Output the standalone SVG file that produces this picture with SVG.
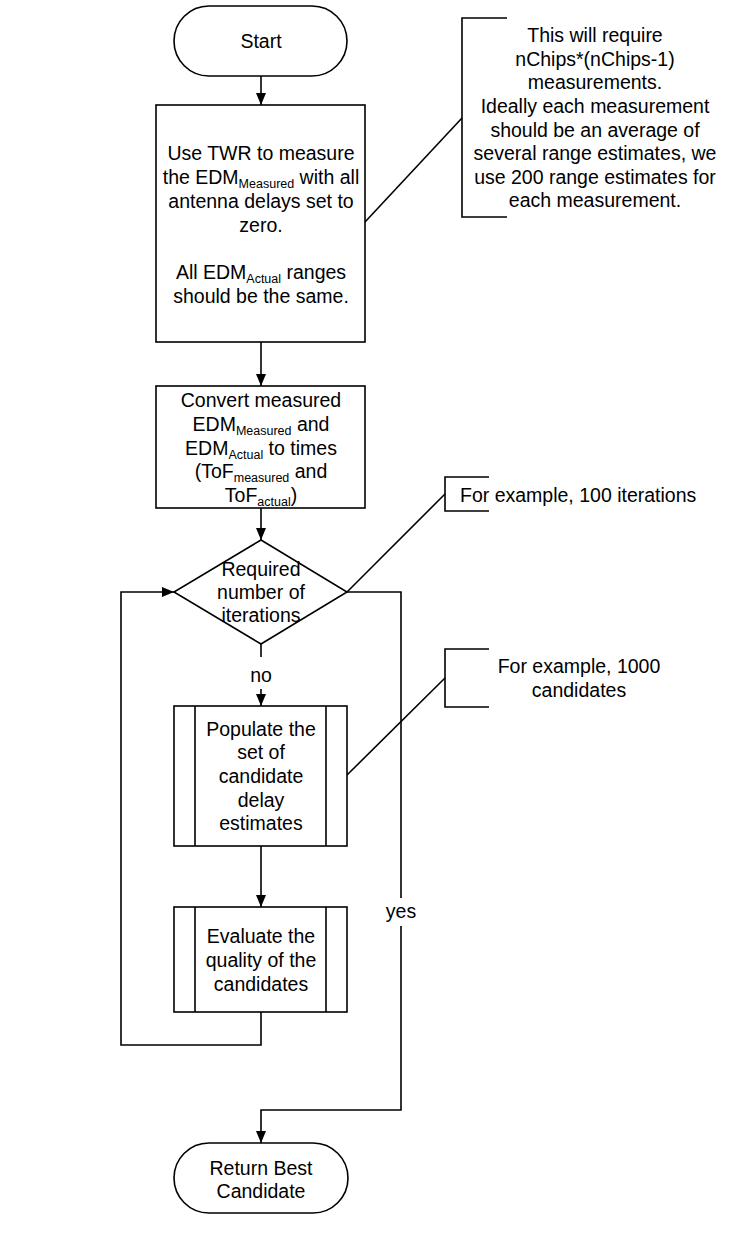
<svg xmlns="http://www.w3.org/2000/svg" width="752" height="1236" viewBox="0 0 752 1236">
<defs>
<marker id="arr" viewBox="0 0 12 10" refX="12" refY="5" markerWidth="12" markerHeight="11" markerUnits="userSpaceOnUse" orient="auto"><path d="M0,0 L12,5 L0,10 z" fill="#000"/></marker>
</defs>
<style>
.s{fill:#fff;stroke:#000;stroke-width:1.6}
.l{fill:none;stroke:#000;stroke-width:1.6}
text{font-family:"Liberation Sans",Arial,sans-serif;font-size:19.5px;fill:#000}
.c{text-anchor:middle}
.sub{font-size:12.5px}
</style>
<rect width="752" height="1236" fill="#fff"/>
<g id="connectors">
<path class="l" d="M261,76 V105" marker-end="url(#arr)"/>
<path class="l" d="M261,342 V386" marker-end="url(#arr)"/>
<path class="l" d="M261,508 V540" marker-end="url(#arr)"/>
<path class="l" d="M261,644 V657"/>
<path class="l" d="M261,689 V706" marker-end="url(#arr)"/>
<path class="l" d="M261,846 V907" marker-end="url(#arr)"/>
<path class="l" d="M261,1012 V1045 H121 V592 H174" marker-end="url(#arr)"/>
<path class="l" d="M347,592 H401 V898"/>
<path class="l" d="M401,926 V1110 H261 V1143" marker-end="url(#arr)"/>
<text class="c" x="261" y="682">no</text>
<text class="c" x="401" y="918">yes</text>
<path class="l" d="M365,222 L462,118"/>
<path class="l" d="M347,592 L445,494"/>
<path class="l" d="M347,775 L445,678"/>
</g>
<g id="start">
<rect class="s" x="174" y="6" width="173" height="70" rx="35"/>
<text class="c" x="261" y="48">Start</text>
</g>
<g id="measure">
<rect class="s" x="156" y="105" width="209" height="237"/>
<text class="c" x="261" y="160">Use TWR to measure</text>
<text class="c" x="261" y="184">the EDM<tspan class="sub" dy="4">Measured</tspan><tspan dy="-4"> with all</tspan></text>
<text class="c" x="261" y="208">antenna delays set to</text>
<text class="c" x="261" y="232">zero.</text>
<text class="c" x="261" y="279">All EDM<tspan class="sub" dy="4">Actual</tspan><tspan dy="-4"> ranges</tspan></text>
<text class="c" x="261" y="303">should be the same.</text>
</g>
<g id="note1">
<path class="l" d="M507,18 H462 V217 H507"/>
<text class="c" x="595" y="42">This will require</text>
<text class="c" x="595" y="66">nChips*(nChips-1)</text>
<text class="c" x="595" y="89">measurements.</text>
<text class="c" x="595" y="113">Ideally each measurement</text>
<text class="c" x="595" y="137">should be an average of</text>
<text class="c" x="595" y="160">several range estimates, we</text>
<text class="c" x="595" y="184">use 200 range estimates for</text>
<text class="c" x="595" y="207">each measurement.</text>
</g>
<g id="convert">
<rect class="s" x="156" y="386" width="209" height="122"/>
<text class="c" x="261" y="407">Convert measured</text>
<text class="c" x="261" y="431">EDM<tspan class="sub" dy="4">Measured</tspan><tspan dy="-4"> and</tspan></text>
<text class="c" x="261" y="455">EDM<tspan class="sub" dy="4">Actual</tspan><tspan dy="-4"> to times</tspan></text>
<text class="c" x="261" y="478">(ToF<tspan class="sub" dy="4">measured</tspan><tspan dy="-4"> and</tspan></text>
<text class="c" x="261" y="502">ToF<tspan class="sub" dy="4">actual</tspan><tspan dy="-4">)</tspan></text>
</g>
<g id="decision">
<path class="s" d="M261,540 L347,592 L261,644 L174,592 z"/>
<text class="c" x="261" y="576">Required</text>
<text class="c" x="261" y="599">number of</text>
<text class="c" x="261" y="622">iterations</text>
</g>
<g id="note2">
<path class="l" d="M489,477 H445 V511 H489"/>
<text x="460" y="502">For example, 100 iterations</text>
</g>
<g id="populate">
<rect class="s" x="174" y="706" width="173" height="140"/>
<path class="l" d="M195,706 V846 M326,706 V846"/>
<text class="c" x="261" y="736">Populate the</text>
<text class="c" x="261" y="759">set of</text>
<text class="c" x="261" y="783">candidate</text>
<text class="c" x="261" y="807">delay</text>
<text class="c" x="261" y="830">estimates</text>
</g>
<g id="note3">
<path class="l" d="M489,649 H445 V707 H489"/>
<text class="c" x="579" y="673">For example, 1000</text>
<text class="c" x="579" y="697">candidates</text>
</g>
<g id="evaluate">
<rect class="s" x="174" y="907" width="173" height="105"/>
<path class="l" d="M195,907 V1012 M326,907 V1012"/>
<text class="c" x="261" y="943">Evaluate the</text>
<text class="c" x="261" y="967">quality of the</text>
<text class="c" x="261" y="991">candidates</text>
</g>
<g id="return">
<rect class="s" x="174" y="1143" width="174" height="70" rx="35"/>
<text class="c" x="261" y="1175">Return Best</text>
<text class="c" x="261" y="1198">Candidate</text>
</g>
</svg>
